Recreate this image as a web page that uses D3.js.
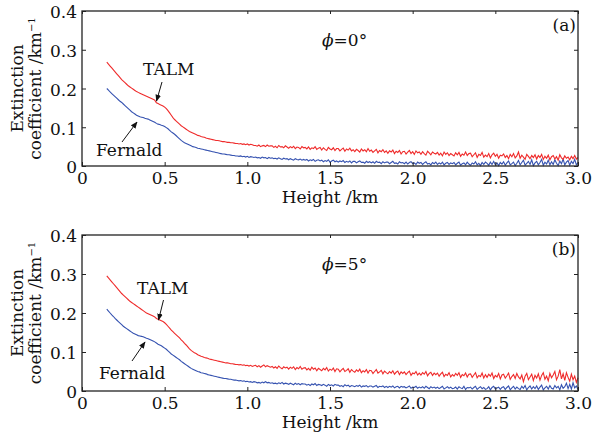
<!DOCTYPE html>
<html>
<head>
<meta charset="utf-8">
<script src="https://cdn.jsdelivr.net/npm/d3@7"></script>
<style>
  html, body { margin: 0; padding: 0; background: #ffffff; }
  svg { display: block; }
  text { font-family: "DejaVu Serif", "Liberation Serif", serif; fill: #111; }
</style>
</head>
<body>
<svg id="chart" width="595" height="437"></svg>
<script>
// Sample heights (km): 0.15 .. 3.00, one sample every 0.01 km
const heightStart = 0.15, heightStep = 0.01;

// Extinction coefficient in units of 1e-3 km^-1
// Panel (a), phi = 0 deg
const talmA = [
268,263,258,253,248,243,238,233,228,223,
219,215,211,207,204,201,198,195,192,190,
188,186,184,182,180,178,176,174,172,170,
163,161,159,157,155,152,148,143,137,131,
125,120,116,112,108,104,101,98,95,92,
89,87,85,83,81,79,78,76,75,74,
72,71,70,69,68,67,66,66,65,64,
63,63,62,61,61,60,60,59,58,58,
57,58,56,57,55,57,54,56,55,53,
53,51,54,50,52,53,50,54,51,52,
52,48,51,47,53,49,50,47,52,49,
46,50,47,51,45,49,48,44,50,47,
48,44,49,43,47,45,50,43,46,48,
41,47,43,40,48,44,42,47,40,45,
45,39,43,46,38,44,41,46,39,42,
37,43,40,36,44,39,42,37,45,38,
41,35,39,43,34,40,37,42,35,39,
33,39,36,41,32,38,35,40,31,37,
38,31,36,40,32,37,30,39,34,36,
30,37,32,28,38,34,29,36,33,31,
35,28,33,26,36,30,34,27,32,29,
26,34,29,35,25,31,28,36,27,32,
33,24,29,34,22,30,27,35,23,28,
24,32,21,29,33,25,30,20,28,26,
31,22,27,19,30,24,32,21,26,36,
20,28,23,17,30,25,19,27,22,29,
18,27,22,30,17,25,20,28,16,24,
27,18,24,15,29,21,17,26,20,23,
16,25,19,27,18,22];
const fernaldA = [
200,196,191,187,183,179,175,171,167,164,
160,156,152,148,144,140,137,134,131,129,
127,126,125,123,122,121,119,117,115,113,
110,108,107,105,104,102,99,96,92,88,
85,82,78,74,70,66,63,60,58,56,
54,52,50,49,48,46,45,44,43,42,
41,40,39,38,37,36,35,34,33,32,
31,31,30,29,29,28,27,27,26,26,
25,26,24,25,23,25,22,24,23,22,
23,21,22,20,23,21,22,19,22,20,
21,19,20,18,21,19,17,20,18,19,
16,19,17,15,19,17,16,18,15,17,
15,17,13,16,14,17,12,15,16,13,
15,11,14,12,16,10,13,15,11,13,
10,13,11,14,9,12,10,13,8,12,
12,8,11,13,9,10,7,12,9,11,
8,11,7,12,9,10,6,11,8,10,
10,6,9,12,7,8,5,11,8,9,
6,10,5,9,11,6,8,4,10,7,
9,4,8,11,5,7,3,9,6,10,
4,8,5,10,3,7,9,4,8,6,
9,3,7,10,2,6,8,3,10,5,
2,8,5,11,3,7,1,9,4,10,
7,2,10,4,12,3,8,1,9,5,
11,2,8,13,3,6,10,1,7,14,
3,9,15,2,7,12,4,16,1,8,
12,3,9,17,2,10,5,15,3,11,
4,16,7,1,13,6,18,3,10,14,
2,12,6,17,3,9];

// Panel (b), phi = 5 deg
const talmB = [
295,290,285,280,275,270,265,260,255,250,
246,242,238,234,230,227,224,221,218,215,
212,209,206,203,200,198,196,194,192,190,
186,184,182,180,178,175,171,166,161,156,
152,148,144,140,136,131,127,122,118,113,
108,104,101,98,96,93,91,89,88,86,
85,84,82,81,80,79,78,77,76,75,
74,73,72,72,71,70,70,69,68,68,
67,68,66,67,65,66,64,66,63,65,
66,62,65,61,64,67,62,65,63,61,
63,59,62,58,64,60,57,62,59,61,
56,61,58,62,55,60,57,63,56,59,
60,54,58,53,61,56,59,52,58,55,
52,58,54,60,51,56,53,59,50,57,
56,49,54,58,50,53,57,48,55,51,
48,54,50,56,47,52,49,55,46,53,
52,45,50,55,46,49,53,44,51,47,
44,50,46,52,43,48,51,42,49,45,
49,42,47,51,40,46,44,50,41,46,
41,47,43,50,39,45,48,40,46,42,
46,38,44,48,37,43,40,47,36,42,
38,45,40,47,35,42,39,46,36,43,
44,35,41,47,34,40,37,46,33,42,
35,43,38,46,32,40,36,45,31,41,
43,33,39,46,30,37,42,32,45,36,
31,41,24,38,45,29,36,43,27,40,
33,44,28,40,47,30,38,26,45,34,
41,50,29,38,55,31,44,27,47,35,
25,43,29,38,22,34];
const fernaldB = [
210,205,200,195,191,186,182,178,174,170,
166,163,160,157,154,151,148,146,144,142,
141,140,139,137,135,134,132,130,128,126,
123,120,118,116,113,110,107,103,99,95,
92,89,86,83,80,76,73,70,67,64,
61,58,56,54,52,50,49,47,46,45,
44,42,41,40,39,38,37,36,35,34,
33,32,32,31,30,30,29,28,28,27,
26,27,25,26,24,25,23,24,22,24,
23,21,22,20,23,21,24,21,22,20,
21,19,20,18,21,19,22,18,20,19,
17,20,18,16,20,17,19,16,19,18,
18,15,17,14,18,16,19,14,17,16,
14,17,15,12,17,14,16,13,17,15,
15,12,14,11,16,13,15,11,14,13,
11,14,12,15,10,13,12,14,10,13,
13,10,12,14,9,12,11,13,9,12,
9,12,10,13,8,11,12,8,12,10,
11,8,10,13,7,10,9,12,7,10,
8,11,7,12,9,6,11,8,10,7,
10,6,9,12,5,8,11,7,10,6,
7,10,5,11,8,6,12,4,9,8,
10,5,9,12,4,8,11,6,9,4,
6,11,3,9,12,5,8,10,4,9,
11,4,9,13,3,8,12,5,10,6,
4,12,7,14,3,9,13,5,11,6,
13,4,10,15,3,8,12,5,14,7,
5,14,8,12,3,16,7,11,20,6,
17,5,21,8,13,4];

const xTickValues = [0, 0.5, 1.0, 1.5, 2.0, 2.5, 3.0];
const xTickLabels = ["0", "0.5", "1.0", "1.5", "2.0", "2.5", "3.0"];
const yTickValues = [0, 0.1, 0.2, 0.3, 0.4];
const yTickLabels = ["0", "0.1", "0.2", "0.3", "0.4"];
const panelLabels = ["(a)", "(b)"];
const angleLabels = ["0°", "5°"];
const seriesNames = ["TALM", "Fernald"];

const FS = 17;

const panels = [
  { top: 11, bottom: 166, talm: talmA, fernald: fernaldA, label: panelLabels[0], angle: angleLabels[0],
    talmText: [143, 75], talmArrow: [[162, 82], [156.5, 101]],
    ferText: [96, 156], ferArrow: [[122, 142], [137, 122]] },
  { top: 235, bottom: 391, talm: talmB, fernald: fernaldB, label: panelLabels[1], angle: angleLabels[1],
    talmText: [137, 294], talmArrow: [[163.5, 300], [158.5, 320]],
    ferText: [99, 379], ferArrow: [[132, 361], [145, 342]] }
];

const svg = d3.select("#chart");
const left = 82, right = 578;
const x = d3.scaleLinear().domain([0, 3]).range([left, right]);

svg.append("defs").append("marker")
  .attr("id", "arrow").attr("viewBox", "0 0 10 10")
  .attr("refX", 9).attr("refY", 5)
  .attr("markerWidth", 7).attr("markerHeight", 7)
  .attr("markerUnits", "userSpaceOnUse")
  .attr("orient", "auto")
  .append("path").attr("d", "M0,1 L10,5 L0,9 Z").attr("fill", "#111");

panels.forEach(p => {
  const y = d3.scaleLinear().domain([0, 0.4]).range([p.bottom, p.top]);
  const g = svg.append("g");

  const line = d3.line()
    .x((d, i) => x(heightStart + i * heightStep))
    .y(d => y(d / 1000));

  g.append("path").datum(p.fernald)
    .attr("d", line).attr("fill", "none")
    .attr("stroke", "#3552b0").attr("stroke-width", 1.1);
  g.append("path").datum(p.talm)
    .attr("d", line).attr("fill", "none")
    .attr("stroke", "#ef2b2b").attr("stroke-width", 1.1);

  // frame
  g.append("rect").attr("x", left).attr("y", p.top)
    .attr("width", right - left).attr("height", p.bottom - p.top)
    .attr("fill", "none").attr("stroke", "#222").attr("stroke-width", 1.3);

  // axes with inward ticks
  const xb = d3.axisBottom(x).tickValues(xTickValues)
    .tickFormat((d, i) => xTickLabels[i]).tickSizeInner(-4).tickSizeOuter(0).tickPadding(8);
  const gx = g.append("g").attr("transform", `translate(0,${p.bottom})`).call(xb);
  const xt = d3.axisTop(x).tickValues(xTickValues).tickFormat("").tickSizeInner(-3).tickSizeOuter(0);
  const gxt = g.append("g").attr("transform", `translate(0,${p.top})`).call(xt);
  const yl = d3.axisLeft(y).tickValues(yTickValues)
    .tickFormat((d, i) => yTickLabels[i]).tickSizeInner(-4).tickSizeOuter(0).tickPadding(5);
  const gy = g.append("g").attr("transform", `translate(${left},0)`).call(yl);
  const yr = d3.axisRight(y).tickValues(yTickValues).tickFormat("").tickSizeInner(-4).tickSizeOuter(0);
  const gyr = g.append("g").attr("transform", `translate(${right},0)`).call(yr);
  [gx, gxt, gy, gyr].forEach(a => {
    a.select(".domain").remove();
    a.selectAll("line").attr("stroke", "#222");
    a.selectAll("text").attr("font-family", "DejaVu Serif").attr("font-size", FS).attr("fill", "#111");
  });
  gx.selectAll("text").attr("dy", "0.71em").attr("y", 6);
  gy.selectAll("text").attr("dy", "0.4em");

  // x axis title
  g.append("text").attr("x", x(1.5)).attr("y", p.bottom + 37)
    .attr("text-anchor", "middle").attr("font-size", FS).text("Height /km");

  // y axis title (two lines)
  const cy = (p.top + p.bottom) / 2;
  const yt = g.append("text")
    .attr("transform", `translate(23,${cy}) rotate(-90)`)
    .attr("text-anchor", "middle").attr("font-size", FS);
  yt.append("tspan").attr("x", 0).attr("y", 0).text("Extinction");
  yt.append("tspan").attr("x", 0).attr("y", 18).text("coefficient /km");
  yt.append("tspan").attr("dy", -6).attr("font-size", 10).text("−1");

  // panel label
  g.append("text").attr("x", 576).attr("y", p.top + 20)
    .attr("text-anchor", "end").attr("font-size", FS).text(p.label);

  // angle label
  const at = g.append("text").attr("x", 322).attr("y", p.top + 35).attr("font-size", FS);
  at.append("tspan").attr("font-style", "italic").text("ϕ");
  at.append("tspan").text("=" + p.angle);

  // series annotations
  g.append("text").attr("x", p.talmText[0]).attr("y", p.talmText[1])
    .attr("font-size", FS).text(seriesNames[0]);
  g.append("line")
    .attr("x1", p.talmArrow[0][0]).attr("y1", p.talmArrow[0][1])
    .attr("x2", p.talmArrow[1][0]).attr("y2", p.talmArrow[1][1])
    .attr("stroke", "#111").attr("stroke-width", 1).attr("marker-end", "url(#arrow)");
  g.append("text").attr("x", p.ferText[0]).attr("y", p.ferText[1])
    .attr("font-size", FS).text(seriesNames[1]);
  g.append("line")
    .attr("x1", p.ferArrow[0][0]).attr("y1", p.ferArrow[0][1])
    .attr("x2", p.ferArrow[1][0]).attr("y2", p.ferArrow[1][1])
    .attr("stroke", "#111").attr("stroke-width", 1).attr("marker-end", "url(#arrow)");
});
</script>
</body>
</html>
